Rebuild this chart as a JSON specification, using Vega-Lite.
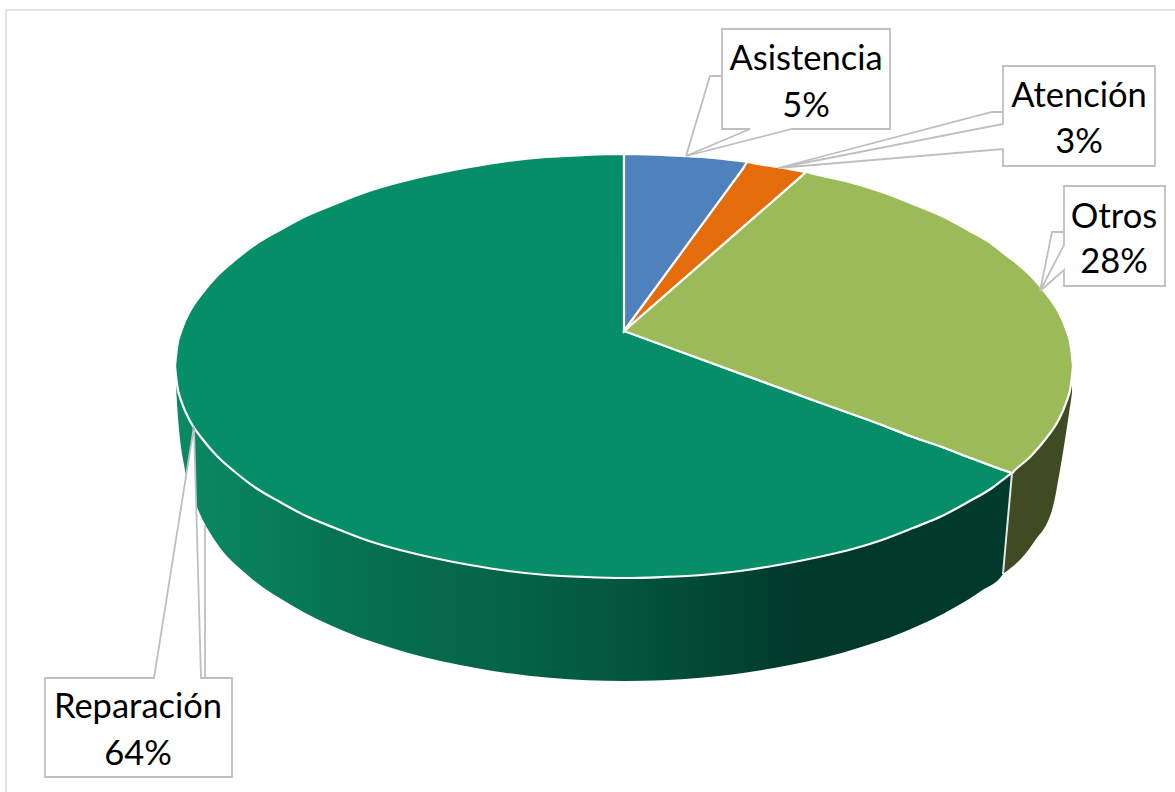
{"$schema":"https://vega.github.io/schema/vega-lite/v6.json","width":1175,"height":792,"padding":0,"autosize":{"type":"none"},"background":"white","config":{"view":{"stroke":null}},
"datasets":{
"caras":[
{"s":"Reparación","x":175,"y":366,"y2":366},{"s":"Reparación","x":177,"y":347.5,"y2":384.5},{"s":"Reparación","x":182,"y":329,"y2":403},{"s":"Reparación","x":190,"y":311,"y2":421},{"s":"Reparación","x":202,"y":293.5,"y2":438.5},{"s":"Reparación","x":217,"y":276,"y2":456},{"s":"Reparación","x":235,"y":260,"y2":472},{"s":"Reparación","x":256,"y":244,"y2":488},{"s":"Reparación","x":280,"y":230,"y2":502},{"s":"Reparación","x":306,"y":216,"y2":516},{"s":"Reparación","x":335,"y":204,"y2":528},{"s":"Reparación","x":366,"y":192,"y2":540},{"s":"Reparación","x":400,"y":182,"y2":550},{"s":"Reparación","x":434,"y":174,"y2":558},{"s":"Reparación","x":470,"y":167,"y2":565},{"s":"Reparación","x":508,"y":161,"y2":571},{"s":"Reparación","x":546,"y":157,"y2":575},{"s":"Reparación","x":585,"y":155,"y2":577},{"s":"Reparación","x":624,"y":154,"y2":578},{"s":"Reparación","x":624.1,"y":331,"y2":578},{"s":"Reparación","x":625,"y":331.3,"y2":578},{"s":"Reparación","x":663,"y":345,"y2":577},{"s":"Reparación","x":702,"y":359.5,"y2":575},{"s":"Reparación","x":740,"y":373.5,"y2":571},{"s":"Reparación","x":778,"y":387,"y2":565},{"s":"Reparación","x":814,"y":400.5,"y2":558},{"s":"Reparación","x":849,"y":413,"y2":550},{"s":"Reparación","x":882,"y":425,"y2":540},{"s":"Reparación","x":913,"y":437,"y2":528},{"s":"Reparación","x":942,"y":447,"y2":516},{"s":"Reparación","x":968,"y":457,"y2":502},{"s":"Reparación","x":992,"y":466,"y2":488},{"s":"Reparación","x":1002,"y":469.7,"y2":480.4},{"s":"Reparación","x":1010,"y":472.3,"y2":474.3},{"s":"Reparación","x":1012,"y":473,"y2":473},
{"s":"Otros","x":624,"y":331,"y2":331},{"s":"Otros","x":800,"y":177.3,"y2":395.4},{"s":"Otros","x":806,"y":172,"y2":397.6},{"s":"Otros","x":814,"y":174,"y2":400.5},{"s":"Otros","x":849,"y":182,"y2":413},{"s":"Otros","x":882,"y":192,"y2":425},{"s":"Otros","x":913,"y":204,"y2":437},{"s":"Otros","x":942,"y":216,"y2":447},{"s":"Otros","x":968,"y":230,"y2":457},{"s":"Otros","x":992,"y":244,"y2":466},{"s":"Otros","x":1010,"y":258,"y2":472.3},{"s":"Otros","x":1012,"y":259.3,"y2":473},{"s":"Otros","x":1014,"y":261,"y2":471},{"s":"Otros","x":1031,"y":276,"y2":456},{"s":"Otros","x":1046,"y":293.5,"y2":438.5},{"s":"Otros","x":1058,"y":311,"y2":421},{"s":"Otros","x":1066,"y":329,"y2":403},{"s":"Otros","x":1071,"y":347.5,"y2":384.5},{"s":"Otros","x":1073,"y":366,"y2":366},
{"s":"Asistencia","x":624,"y":154,"y2":331},{"s":"Asistencia","x":663,"y":155,"y2":278},{"s":"Asistencia","x":702,"y":157,"y2":225},{"s":"Asistencia","x":740,"y":161,"y2":173},{"s":"Asistencia","x":748,"y":162,"y2":162},
{"s":"Atención","x":624,"y":331,"y2":331},{"s":"Atención","x":742,"y":170.2,"y2":227.9},{"s":"Atención","x":748,"y":162,"y2":222.6},{"s":"Atención","x":752,"y":162.8,"y2":219.2},{"s":"Atención","x":778,"y":167,"y2":196.5},{"s":"Atención","x":806,"y":172,"y2":172}],
"lados":[
{"s":"Otros","x":1000,"y":366,"y2":576},{"s":"Otros","x":1003,"y":366,"y2":574},{"s":"Otros","x":1034,"y":366,"y2":542},{"s":"Otros","x":1053,"y":366,"y2":506.6},{"s":"Otros","x":1060,"y":366,"y2":470},{"s":"Otros","x":1072,"y":366,"y2":393}],
"ladoVerde":[
{"x":176,"y":366,"y2":366},{"x":176.5,"y":366,"y2":395},{"x":186,"y":366,"y2":475},{"x":197,"y":366,"y2":507},{"x":216,"y":366,"y2":542},{"x":248,"y":366,"y2":575.5},{"x":292,"y":366,"y2":605.6},{"x":345,"y":366,"y2":631.6},{"x":407.5,"y":366,"y2":652.7},{"x":476,"y":366,"y2":668},{"x":549.5,"y":366,"y2":677.8},{"x":625,"y":366,"y2":681},{"x":700.5,"y":366,"y2":677.8},{"x":774,"y":366,"y2":668},{"x":842.5,"y":366,"y2":652.7},{"x":905,"y":366,"y2":631.6},{"x":958,"y":366,"y2":605.6},{"x":981,"y":366,"y2":591},{"x":1003,"y":366,"y2":574},{"x":1012,"y":366,"y2":473}],
"separador":[{"x":1012,"y":473,"i":1},{"x":1003,"y":574,"i":2}],
"marco":[{"x":6,"y":792,"i":1},{"x":6,"y":10,"i":2},{"x":1175,"y":10,"i":3}],
"cuna":[{"x":154,"y":678,"y2":678},{"x":194,"y":426,"y2":678},{"x":201,"y":678,"y2":678}],
"cajas":[{"s":"Asistencia","x":722,"x2":890,"y":29,"y2":129},{"s":"Atención","x":1003,"x2":1155,"y":66,"y2":166},{"s":"Otros","x":1064,"x2":1165,"y":186,"y2":286},{"s":"Reparación","x":45,"x2":232,"y":678,"y2":777}],
"contornos":[
{"s":"Asistencia","i":1,"x":722,"y":76},{"s":"Asistencia","i":2,"x":722,"y":29},{"s":"Asistencia","i":3,"x":890,"y":29},{"s":"Asistencia","i":4,"x":890,"y":129},{"s":"Asistencia","i":5,"x":792,"y":129},{"s":"Asistencia","i":6,"x":686,"y":156},{"s":"Asistencia","i":7,"x":750,"y":129},{"s":"Asistencia","i":8,"x":722,"y":129},{"s":"Asistencia","i":9,"x":722,"y":76},{"s":"Asistencia","i":10,"x":710,"y":76},{"s":"Asistencia","i":11,"x":686,"y":156},
{"s":"Atención","i":1,"x":1003,"y":124},{"s":"Atención","i":2,"x":1003,"y":66},{"s":"Atención","i":3,"x":1155,"y":66},{"s":"Atención","i":4,"x":1155,"y":166},{"s":"Atención","i":5,"x":1003,"y":166},{"s":"Atención","i":6,"x":1003,"y":149},{"s":"Atención","i":7,"x":778,"y":168},{"s":"Atención","i":8,"x":1003,"y":124},{"s":"Atención","i":9,"x":1003,"y":112},{"s":"Atención","i":10,"x":992,"y":112},{"s":"Atención","i":11,"x":778,"y":168},
{"s":"Otros","i":1,"x":1064,"y":245},{"s":"Otros","i":2,"x":1064,"y":186},{"s":"Otros","i":3,"x":1165,"y":186},{"s":"Otros","i":4,"x":1165,"y":286},{"s":"Otros","i":5,"x":1064,"y":286},{"s":"Otros","i":6,"x":1064,"y":270},{"s":"Otros","i":7,"x":1040,"y":291},{"s":"Otros","i":8,"x":1064,"y":245},{"s":"Otros","i":9,"x":1064,"y":232},{"s":"Otros","i":10,"x":1052,"y":232},{"s":"Otros","i":11,"x":1040,"y":291},
{"s":"Reparación","i":1,"x":205,"y":525},{"s":"Reparación","i":2,"x":205,"y":678},{"s":"Reparación","i":3,"x":232,"y":678},{"s":"Reparación","i":4,"x":232,"y":777},{"s":"Reparación","i":5,"x":45,"y":777},{"s":"Reparación","i":6,"x":45,"y":678},{"s":"Reparación","i":7,"x":154,"y":678},{"s":"Reparación","i":8,"x":194,"y":426},{"s":"Reparación","i":9,"x":201,"y":678},{"s":"Reparación","i":10,"x":205,"y":678}],
"textos":[{"t":"Asistencia","x":806,"y":70},{"t":"5%","x":806,"y":117},{"t":"Atención","x":1079,"y":107},{"t":"3%","x":1079,"y":153},{"t":"Otros","x":1114,"y":228},{"t":"28%","x":1114,"y":273},{"t":"Reparación","x":138,"y":718},{"t":"64%","x":138,"y":765}]
},
"encoding":{
"x":{"field":"x","type":"quantitative","scale":{"domain":[0,1175],"nice":false,"zero":false},"axis":null},
"y":{"field":"y","type":"quantitative","stack":null,"scale":{"domain":[792,0],"nice":false,"zero":false},"axis":null}
},
"layer":[
{"data":{"name":"marco"},"mark":{"type":"line","color":"#dcdcdc","strokeWidth":1.5},"encoding":{"order":{"field":"i"}}},
{"data":{"name":"lados"},"mark":{"type":"area","color":"#414b23","interpolate":"monotone"},"encoding":{"y2":{"field":"y2"}}},
{"data":{"name":"ladoVerde"},"mark":{"type":"area","interpolate":"monotone","color":{"gradient":"linear","x1":0,"y1":0,"x2":1,"y2":0,"stops":[{"offset":0,"color":"#0a8a64"},{"offset":0.2,"color":"#067350"},{"offset":0.5,"color":"#045a41"},{"offset":0.75,"color":"#00382a"},{"offset":1,"color":"#003a2a"}]}},"encoding":{"y2":{"field":"y2"}}},
{"data":{"name":"caras"},"mark":{"type":"area","interpolate":"monotone","stroke":"white","strokeWidth":2.2,"opacity":1},"encoding":{"y2":{"field":"y2"},"color":{"field":"s","type":"nominal","legend":null,"scale":{"domain":["Asistencia","Atención","Otros","Reparación"],"range":["#4f81bd","#e46c0a","#9bbb59","#068e68"]}}}},
{"data":{"name":"separador"},"mark":{"type":"line","color":"#e8e8e8","strokeWidth":2},"encoding":{"order":{"field":"i"}}},
{"data":{"name":"cuna"},"mark":{"type":"area","color":"white"},"encoding":{"y2":{"field":"y2"}}},
{"data":{"name":"cajas"},"mark":{"type":"rect","color":"white"},"encoding":{"x2":{"field":"x2"},"y2":{"field":"y2"}}},
{"data":{"name":"contornos"},"mark":{"type":"line","color":"#bfbfbf","strokeWidth":1.8},"encoding":{"detail":{"field":"s"},"order":{"field":"i"}}},
{"data":{"name":"textos"},"mark":{"type":"text","font":"Lato","fontSize":34.5,"align":"center","baseline":"alphabetic","color":"#000000"},"encoding":{"text":{"field":"t"}}}
]}
